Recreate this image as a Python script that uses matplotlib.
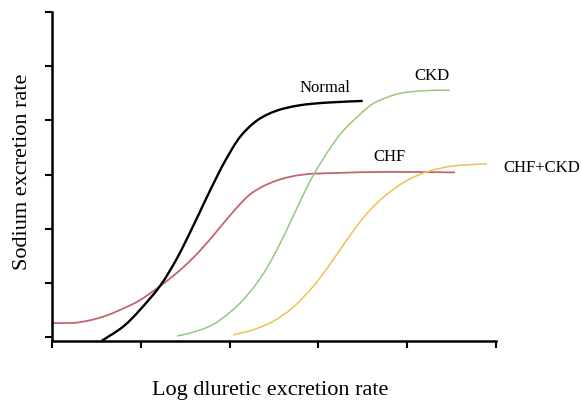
import matplotlib
matplotlib.use('Agg')
from matplotlib import pyplot as plt
from matplotlib.path import Path
from matplotlib.patches import PathPatch

plt.rcParams['font.family'] = 'Liberation Serif'

# Curves (arbitrary units: x 0-5, y 0-6)
normal_x = [0.56, 0.80, 0.99, 1.22, 1.41, 1.59, 1.72, 1.86, 1.97, 2.12, 2.31, 2.53, 2.79, 3.10, 3.50]
normal_y = [-0.07, 0.19, 0.50, 0.95, 1.46, 2.05, 2.50, 2.97, 3.31, 3.70, 4.00, 4.18, 4.28, 4.33, 4.36]

chf_x = [0.01, 0.24, 0.43, 0.62, 0.82, 0.99, 1.25, 1.48, 1.67, 1.86, 2.06, 2.26, 2.53, 2.83, 3.21, 3.77, 4.54]
chf_y = [0.26, 0.26, 0.31, 0.40, 0.54, 0.68, 0.98, 1.29, 1.60, 1.96, 2.35, 2.67, 2.89, 3.00, 3.03, 3.05, 3.04]

ckd_x = [1.41, 1.55, 1.75, 1.89, 2.12, 2.34, 2.53, 2.71, 2.87, 2.98, 3.13, 3.28, 3.55, 3.69, 3.92, 4.20, 4.48]
ckd_y = [0.02, 0.07, 0.18, 0.31, 0.63, 1.07, 1.60, 2.21, 2.76, 3.09, 3.48, 3.81, 4.23, 4.37, 4.50, 4.55, 4.56]

both_x = [2.04, 2.26, 2.49, 2.71, 2.94, 3.13, 3.32, 3.50, 3.69, 3.89, 4.07, 4.26, 4.52, 4.90]
both_y = [0.04, 0.13, 0.29, 0.54, 0.93, 1.34, 1.79, 2.19, 2.52, 2.78, 2.95, 3.07, 3.16, 3.20]


def smooth_path(xs, ys):
    # Catmull-Rom through the read points, drawn as cubic bezier segments
    pts = list(zip(xs, ys))
    verts = [pts[0]]
    codes = [Path.MOVETO]
    for i in range(len(pts) - 1):
        p0 = pts[i - 1] if i > 0 else pts[i]
        p1 = pts[i]
        p2 = pts[i + 1]
        p3 = pts[i + 2] if i + 2 < len(pts) else pts[i + 1]
        c1 = (p1[0] + (p2[0] - p0[0]) / 6, p1[1] + (p2[1] - p0[1]) / 6)
        c2 = (p2[0] - (p3[0] - p1[0]) / 6, p2[1] - (p3[1] - p1[1]) / 6)
        verts += [c1, c2, p2]
        codes += [Path.CURVE4] * 3
    return Path(verts, codes)


fig = plt.figure(figsize=(5.81, 4.03), dpi=100)
ax = fig.add_axes([0.0895, 0.1538, 0.764, 0.816])

for xs, ys, col, lw in [(chf_x, chf_y, '#c4646e', 1.3),
                        (ckd_x, ckd_y, '#93c97c', 1.1),
                        (both_x, both_y, '#ebc255', 1.1),
                        (normal_x, normal_y, 'black', 1.7)]:
    ax.add_patch(PathPatch(smooth_path(xs, ys), facecolor='none', edgecolor=col,
                           lw=lw, capstyle='butt', clip_on=False))

# curve labels
ax.text(3.07, 4.60, 'Normal', fontsize=12, ha='center', va='center')
ax.text(4.28, 4.82, 'CKD', fontsize=12, ha='center', va='center')
ax.text(3.80, 3.32, 'CHF', fontsize=12, ha='center', va='center')
ax.text(5.08, 3.12, 'CHF+CKD', fontsize=12, ha='left', va='center', clip_on=False)

ax.set_xlim(0, 5)
ax.set_ylim(-0.074, 6)
ax.set_xticks(range(6))
ax.set_yticks(range(7))
ax.set_xticklabels([])
ax.set_yticklabels([])
ax.tick_params(direction='out', length=5, width=1.5)
ax.spines[['top', 'right']].set_visible(False)
ax.spines[['left', 'bottom']].set_linewidth(1.8)

fig.text(270 / 581, 1 - 390 / 403, 'Log dluretic excretion rate', fontsize=16,
         ha='center', va='center')
fig.text(23 / 581, 1 - 172 / 403, 'Sodium excretion rate', fontsize=16,
         ha='center', va='center', rotation=90)

fig.savefig('out.png', dpi=100)
